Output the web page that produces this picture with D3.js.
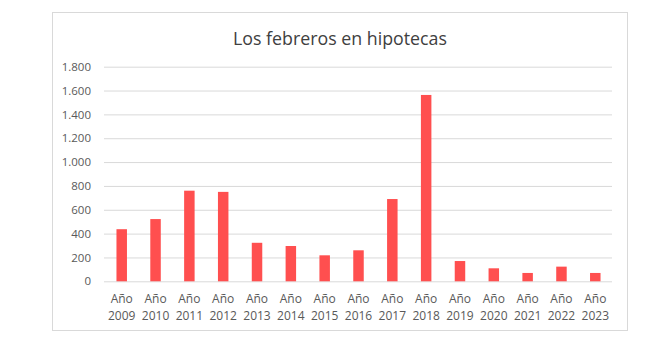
<!DOCTYPE html>
<html><head><meta charset="utf-8">
<script src="https://cdn.jsdelivr.net/npm/d3@7"></script>
<style>body{margin:0;background:#fff}svg{display:block}</style>
</head><body>
<svg id="c" width="648" height="344"></svg>
<script>
const categories = ["2009","2010","2011","2012","2013","2014","2015","2016","2017","2018","2019","2020","2021","2022","2023"];
const values = [437, 522, 760, 750, 323, 296, 218, 260, 690, 1563, 170, 109, 70, 123, 70];
const yTicks = [0,200,400,600,800,1000,1200,1400,1600,1800];
const title = "Los febreros en hipotecas";

const fmt = v => d3.format(",")(v).replace(/,/g, ".");
const svg = d3.select("#c");
const font = "'Open Sans', sans-serif";

svg.append("rect").attr("x",52.5).attr("y",12.5).attr("width",575).attr("height",318)
  .attr("fill","#fff").attr("stroke","#d9d9d9").attr("stroke-width",1);

const x = d3.scaleBand().domain(categories).range([104.8,612.2]).paddingInner(0.69).paddingOuter(0.345);
const y = d3.scaleLinear().domain([0,1800]).range([281.3,66.7]);

svg.append("text").attr("x",340).attr("y",45).attr("text-anchor","middle")
  .attr("font-family",font).attr("font-size",17.8).attr("fill","#404040").text(title);

const yAxis = svg.append("g").attr("transform","translate(104,0)")
  .call(d3.axisLeft(y).tickValues(yTicks).tickFormat(fmt).tickSize(-508).tickPadding(13));
yAxis.select(".domain").remove();
yAxis.selectAll(".tick line").attr("stroke","#d9d9d9");
yAxis.selectAll(".tick text").attr("font-family",font).attr("font-size",11.5).attr("fill","#595959");

svg.append("g").selectAll("rect").data(values).join("rect")
  .attr("x",(d,i)=>x(categories[i])).attr("width",x.bandwidth())
  .attr("y",d=>y(d)).attr("height",d=>y(0)-y(d)).attr("fill","#ff4f4f");

const xl = svg.append("g").selectAll("text").data(categories).join("text")
  .attr("text-anchor","middle").attr("font-family",font).attr("font-size",12).attr("fill","#595959");
xl.append("tspan").attr("x",d=>x(d)+x.bandwidth()/2).attr("y",302.5).text("Año");
xl.append("tspan").attr("x",d=>x(d)+x.bandwidth()/2).attr("y",320).text(d=>d);
</script>
</body></html>
